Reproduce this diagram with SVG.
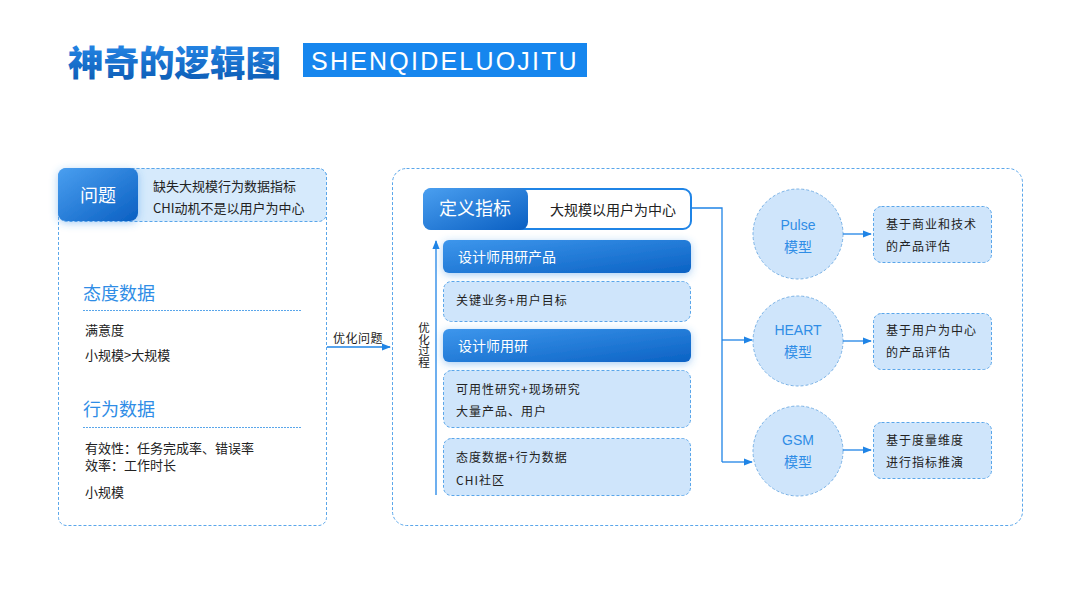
<svg xmlns="http://www.w3.org/2000/svg" width="1080" height="608" viewBox="0 0 1080 608">
<defs>
<linearGradient id="panel" x1="0" y1="0" x2="0" y2="1"><stop offset="0" stop-color="#e3f0fc"/><stop offset="1" stop-color="#ffffff"/></linearGradient>
<linearGradient id="blue" x1="0" y1="0" x2="1" y2="1"><stop offset="0" stop-color="#4a9ff0"/><stop offset="1" stop-color="#0a5fc2"/></linearGradient>
<linearGradient id="bar" x1="0" y1="0" x2="1" y2="1"><stop offset="0" stop-color="#3d96ec"/><stop offset="1" stop-color="#0b62c4"/></linearGradient>
<linearGradient id="title" x1="0" y1="0" x2="0" y2="1"><stop offset="0" stop-color="#2a8ff0"/><stop offset="1" stop-color="#0a58b0"/></linearGradient>
<filter id="sh" x="-20%" y="-40%" width="140%" height="180%"><feDropShadow dx="0" dy="2" stdDeviation="4" flood-color="#3a8fe6" flood-opacity="0.45"/></filter>
<marker id="ah" viewBox="0 0 10 10" refX="9" refY="5" markerWidth="7" markerHeight="7" orient="auto"><path d="M0,1 L10,5 L0,9 z" fill="#1f84e6"/></marker>
<style>
.cn{font-family:"Noto Sans CJK SC","Liberation Sans",sans-serif}
.dash{stroke:#5aa6ea;stroke-width:1;stroke-dasharray:3,2;fill:none}
.dbox{fill:#cfe5fb;stroke:#5aa6ea;stroke-width:1;stroke-dasharray:3,2}
.circ{fill:#cfe5fb;stroke:#7ab2e6;stroke-width:1;stroke-dasharray:3,2}
.t12{font-size:12px;fill:#222;letter-spacing:1px}
.t13{font-size:13px;fill:#222}
.wh{fill:#fff}
.conn{stroke:#1f84e6;stroke-width:1.3;fill:none}
.ct{font-size:14px;fill:#2f8de6;text-anchor:middle}
.hd{font-size:18px;fill:#2f8de6}
</style>
</defs>
<rect width="1080" height="608" fill="#fff"/>
<g id="title-group">
<text x="68" y="76" class="cn" font-size="35.5" font-weight="900" fill="url(#title)">神奇的逻辑图</text>
<rect x="303" y="43" width="284" height="34" fill="#1686ee"/>
<text x="445" y="70" font-family="Liberation Sans,sans-serif" font-size="25" fill="#fff" text-anchor="middle" letter-spacing="2.2">SHENQIDELUOJITU</text>
</g>
<g id="left-panel">
<rect x="58.5" y="168.5" width="268" height="357" rx="8" fill="url(#panel)" class="dash"/>
<rect x="58.5" y="168.5" width="268" height="53" rx="8" fill="#d6eafc" stroke="#5aa6ea" stroke-dasharray="3,2"/>
<rect x="58" y="168" width="80" height="53" rx="8" fill="url(#blue)" filter="url(#sh)"/>
<text x="98" y="202" class="cn wh" font-size="18" text-anchor="middle">问题</text>
<text x="153" y="191" class="cn t13">缺失大规模行为数据指标</text>
<text x="153" y="213" class="cn t13">CHI动机不是以用户为中心</text>
<text x="83" y="300" class="cn hd">态度数据</text>
<line x1="83" y1="310.5" x2="301" y2="310.5" stroke="#5aa6ea" stroke-dasharray="2,1"/>
<text x="85" y="335" class="cn t13">满意度</text>
<text x="85" y="360" class="cn t13">小规模&gt;大规模</text>
<text x="83" y="416" class="cn hd">行为数据</text>
<line x1="83" y1="427.5" x2="301" y2="427.5" stroke="#5aa6ea" stroke-dasharray="2,1"/>
<text x="85" y="453" class="cn t13">有效性：任务完成率、错误率</text>
<text x="85" y="470" class="cn t13">效率：工作时长</text>
<text x="85" y="497" class="cn t13">小规模</text>
</g>
<g id="right-panel">
<rect x="392.5" y="168.5" width="630" height="357" rx="14" fill="url(#panel)" class="dash"/>
</g>
<g id="define">
<rect x="424" y="189" width="267" height="40" rx="8" fill="#fff" stroke="#1f84e6" stroke-width="2"/>
<rect x="423" y="188" width="105" height="42" rx="8" fill="url(#blue)"/>
<text x="475" y="215" class="cn wh" font-size="18" text-anchor="middle">定义指标</text>
<text x="550" y="215" class="cn" font-size="14" fill="#222">大规模以用户为中心</text>
</g>
<g id="step1">
<rect x="443" y="240" width="248" height="33" rx="6" fill="url(#bar)" filter="url(#sh)"/>
<text x="458" y="262" class="cn wh" font-size="14">设计师用研产品</text>
</g>
<g id="step1d">
<rect x="443.5" y="281.5" width="247" height="40" rx="8" class="dbox"/>
<text x="456" y="305" class="cn t12">关键业务+用户目标</text>
</g>
<g id="step2">
<rect x="443" y="329" width="248" height="33" rx="6" fill="url(#bar)" filter="url(#sh)"/>
<text x="458" y="351" class="cn wh" font-size="14">设计师用研</text>
</g>
<g id="step2d">
<rect x="443.5" y="370.5" width="247" height="57" rx="8" class="dbox"/>
<text x="456" y="394" class="cn t12">可用性研究+现场研究</text>
<text x="456" y="416" class="cn t12">大量产品、用户</text>
</g>
<g id="step3d">
<rect x="443.5" y="438.5" width="247" height="57" rx="8" class="dbox"/>
<text x="456" y="462" class="cn t12">态度数据+行为数据</text>
<text x="456" y="485" class="cn t12">CHI社区</text>
</g>
<g id="pulse">
<circle cx="798" cy="234" r="45" class="circ"/>
<text x="798" y="230" class="ct" font-family="Liberation Sans,sans-serif">Pulse</text>
<text x="798" y="252" class="cn ct">模型</text>
</g>
<g id="heart">
<circle cx="798" cy="341" r="45" class="circ"/>
<text x="798" y="335" class="ct" font-family="Liberation Sans,sans-serif">HEART</text>
<text x="798" y="357" class="cn ct">模型</text>
</g>
<g id="gsm">
<circle cx="798" cy="451" r="45" class="circ"/>
<text x="798" y="445" class="ct" font-family="Liberation Sans,sans-serif">GSM</text>
<text x="798" y="467" class="cn ct">模型</text>
</g>
<g id="pulse-desc">
<rect x="873.5" y="206.5" width="118" height="56" rx="8" class="dbox"/>
<text x="886" y="229" class="cn t12">基于商业和技术</text>
<text x="886" y="251" class="cn t12">的产品评估</text>
</g>
<g id="heart-desc">
<rect x="873.5" y="313.5" width="118" height="56" rx="8" class="dbox"/>
<text x="886" y="335" class="cn t12">基于用户为中心</text>
<text x="886" y="357" class="cn t12">的产品评估</text>
</g>
<g id="gsm-desc">
<rect x="873.5" y="422.5" width="118" height="56" rx="8" class="dbox"/>
<text x="886" y="445" class="cn t12">基于度量维度</text>
<text x="886" y="467" class="cn t12">进行指标推演</text>
</g>
<g id="connectors">
<line x1="327" y1="347" x2="390" y2="347" class="conn" marker-end="url(#ah)"/>
<text x="358" y="343" class="cn" font-size="12" fill="#222" text-anchor="middle" letter-spacing="0.5">优化问题</text>
<line x1="436" y1="495" x2="436" y2="241" class="conn" marker-end="url(#ah)"/>
<text class="cn" font-size="11.5" fill="#222" x="424" y="345" text-anchor="middle" style="writing-mode:vertical-rl">优化过程</text>
<path d="M691,208 H722 V462" class="conn"/>
<line x1="722" y1="340" x2="752" y2="340" class="conn" marker-end="url(#ah)"/>
<line x1="722" y1="462" x2="752" y2="462" class="conn" marker-end="url(#ah)"/>
<line x1="843" y1="234" x2="871" y2="234" class="conn" marker-end="url(#ah)"/>
<line x1="843" y1="341" x2="871" y2="341" class="conn" marker-end="url(#ah)"/>
<line x1="843" y1="450" x2="871" y2="450" class="conn" marker-end="url(#ah)"/>
</g>
</svg>
